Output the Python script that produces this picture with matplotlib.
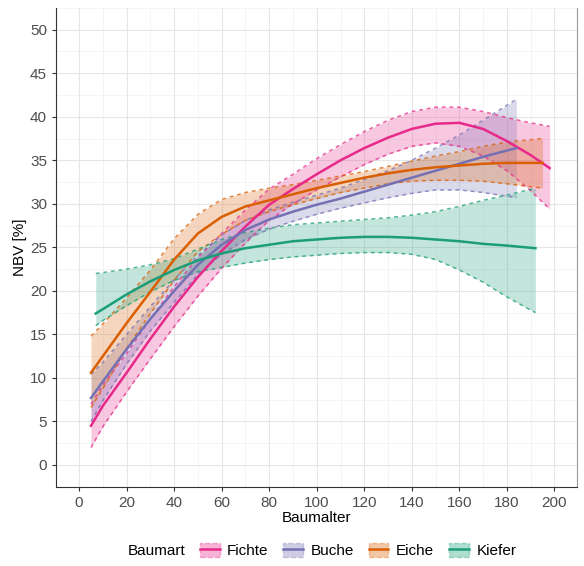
import matplotlib
matplotlib.use("Agg")
import matplotlib.pyplot as plt
from matplotlib.lines import Line2D
from matplotlib.patches import Patch
from matplotlib.ticker import MultipleLocator

plt.rcParams["font.family"] = ["Liberation Sans", "DejaVu Sans"]

# Baumart -> (alter, NBV, untere Grenze, obere Grenze)
species = ["Fichte", "Buche", "Eiche", "Kiefer"]
colors = {"Fichte": "#E7298A", "Buche": "#7570B3", "Eiche": "#D95F02", "Kiefer": "#1B9E77"}

fichte_x = [5, 10, 20, 30, 40, 50, 60, 70, 80, 90, 100, 110, 120, 130, 140, 150, 160, 170, 180, 190, 198]
fichte_y = [4.5, 6.8, 10.6, 14.5, 18.2, 21.6, 24.6, 27.4, 29.9, 31.7, 33.4, 35.0, 36.4, 37.6, 38.6, 39.2, 39.3, 38.6, 37.2, 35.6, 34.1]
fichte_lo = [2.0, 4.4, 8.4, 12.2, 15.9, 19.4, 22.6, 25.5, 28.1, 30.0, 31.6, 33.1, 34.5, 35.7, 36.6, 37.0, 36.6, 35.5, 33.8, 31.5, 29.4]
fichte_hi = [7.0, 9.2, 12.8, 16.8, 20.5, 23.8, 26.6, 29.3, 31.7, 33.4, 35.2, 36.8, 38.3, 39.6, 40.6, 41.1, 41.1, 40.6, 39.9, 39.3, 38.9]

buche_x = [5, 10, 20, 30, 40, 50, 60, 70, 80, 90, 100, 110, 120, 130, 140, 150, 160, 170, 184]
buche_y = [7.7, 9.6, 13.3, 16.8, 20.0, 23.0, 25.3, 27.0, 28.2, 29.1, 29.9, 30.6, 31.4, 32.2, 33.0, 33.8, 34.6, 35.4, 36.4]
buche_lo = [5.0, 7.4, 11.6, 15.4, 18.7, 21.9, 24.2, 25.9, 27.1, 28.0, 28.8, 29.5, 30.1, 30.7, 31.2, 31.6, 31.6, 31.3, 30.7]
buche_hi = [10.4, 11.8, 15.0, 18.2, 21.3, 24.1, 26.4, 28.1, 29.3, 30.2, 31.0, 31.8, 32.8, 33.8, 35.0, 36.4, 37.9, 39.6, 42.0]

eiche_x = [5, 10, 20, 30, 40, 50, 60, 70, 80, 90, 100, 110, 120, 130, 140, 150, 160, 170, 180, 195]
eiche_y = [10.6, 12.5, 16.3, 19.9, 23.6, 26.6, 28.5, 29.7, 30.4, 31.1, 31.8, 32.4, 33.0, 33.5, 33.9, 34.2, 34.4, 34.6, 34.7, 34.7]
eiche_lo = [6.6, 8.8, 13.4, 17.4, 21.2, 24.5, 26.5, 28.1, 29.1, 29.9, 30.6, 31.3, 31.8, 32.3, 32.6, 32.7, 32.7, 32.6, 32.3, 31.8]
eiche_hi = [14.8, 16.2, 19.2, 22.4, 26.0, 28.8, 30.5, 31.3, 31.8, 32.2, 32.7, 33.2, 33.7, 34.3, 34.9, 35.5, 36.0, 36.6, 37.1, 37.5]

kiefer_x = [7, 10, 20, 30, 40, 50, 60, 70, 80, 90, 100, 110, 120, 130, 140, 150, 160, 170, 180, 192]
kiefer_y = [17.4, 17.9, 19.6, 21.1, 22.4, 23.5, 24.3, 24.9, 25.3, 25.7, 25.9, 26.1, 26.2, 26.2, 26.1, 25.9, 25.7, 25.4, 25.2, 24.9]
kiefer_lo = [16.0, 16.6, 18.3, 19.9, 21.2, 22.2, 22.7, 23.2, 23.6, 23.9, 24.1, 24.3, 24.4, 24.4, 24.2, 23.6, 22.4, 21.0, 19.3, 17.5]
kiefer_hi = [22.0, 22.1, 22.5, 23.0, 23.7, 24.8, 25.9, 26.7, 27.2, 27.6, 27.8, 28.0, 28.2, 28.4, 28.7, 29.1, 29.7, 30.4, 31.0, 31.8]

series = {
    "Fichte": (fichte_x, fichte_y, fichte_lo, fichte_hi),
    "Buche": (buche_x, buche_y, buche_lo, buche_hi),
    "Eiche": (eiche_x, eiche_y, eiche_lo, eiche_hi),
    "Kiefer": (kiefer_x, kiefer_y, kiefer_lo, kiefer_hi),
}

fig = plt.figure(figsize=(5.84, 5.66), dpi=100)
ax = fig.add_axes([0.096, 0.14, 0.892, 0.846])

for name in species:
    x, y, lo, hi = series[name]
    c = colors[name]
    ax.fill_between(x, lo, hi, color=c, alpha=0.26, linewidth=0)
    ax.plot(x, lo, color=c, lw=1.1, ls=(0, (2.5, 2.5)), alpha=0.75)
    ax.plot(x, hi, color=c, lw=1.1, ls=(0, (2.5, 2.5)), alpha=0.75)
for name in species:
    x, y, lo, hi = series[name]
    ax.plot(x, y, color=colors[name], lw=1.8)

ax.set_xlim(-9.7, 209.5)
ax.set_ylim(-2.5, 52.5)
ax.xaxis.set_major_locator(MultipleLocator(20))
ax.xaxis.set_minor_locator(MultipleLocator(10))
ax.yaxis.set_major_locator(MultipleLocator(5))
ax.yaxis.set_minor_locator(MultipleLocator(2.5))
ax.grid(which="major", color="#E6E6E6", lw=0.8)
ax.grid(which="minor", color="#F0F0F0", lw=0.5)
ax.set_axisbelow(True)

ax.spines["top"].set_visible(False)
ax.spines["left"].set_color("#333333")
ax.spines["bottom"].set_color("#333333")
ax.spines["right"].set_color("#999999")
ax.tick_params(which="major", length=3, color="#333333", labelsize=11, labelcolor="#4D4D4D")
ax.tick_params(which="minor", length=0)

ax.set_xlabel("Baumalter", fontsize=11, labelpad=1)
ax.set_ylabel("NBV [%]", fontsize=11, labelpad=2)

handles = []
for name in species:
    c = colors[name]
    patch = Patch(facecolor=c, alpha=0.35, edgecolor=c, linestyle="--", linewidth=1)
    line = Line2D([], [], color=c, lw=1.8)
    handles.append((patch, line))

fig.text(0.219, 0.027, "Baumart", fontsize=11, va="center", ha="left")
fig.legend(handles, species, loc="center", bbox_to_anchor=(0.613, 0.027), ncol=4,
           frameon=False, fontsize=11, handlelength=1.3, handleheight=1.0,
           handletextpad=0.5, columnspacing=0.95, borderpad=0)

fig.savefig("out.png", dpi=100)
